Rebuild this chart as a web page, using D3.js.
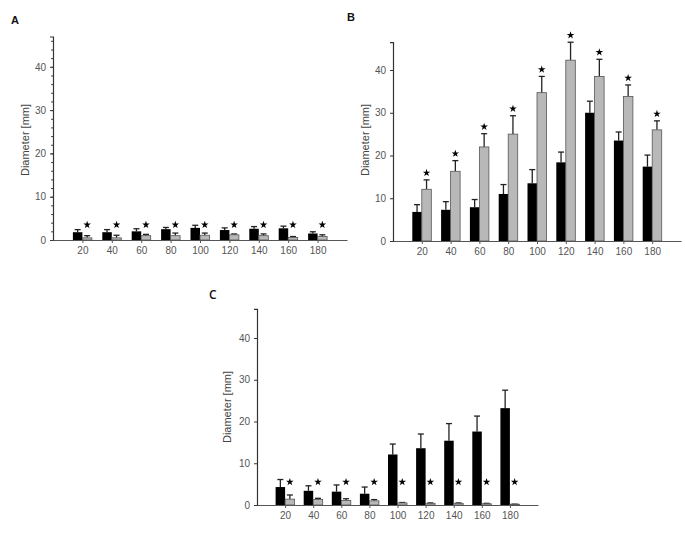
<!DOCTYPE html>
<html>
<head>
<meta charset="utf-8">
<script src="https://cdn.jsdelivr.net/npm/d3@7"></script>
<style>
  body { margin: 0; background: #fff; }
  text { font-family: "Liberation Sans", Arial, sans-serif; }
</style>
</head>
<body>
<div id="chart"></div>
<script>
// 1: DATA
const categories = ["20", "40", "60", "80", "100", "120", "140", "160", "180"];
const yTicks = [0, 10, 20, 30, 40];

// Panel A
const aBlack = [1.8, 1.8, 2.0, 2.5, 2.8, 2.3, 2.6, 2.7, 1.5];
const aBlackSd = [0.6, 0.6, 0.6, 0.4, 0.6, 0.5, 0.5, 0.5, 0.4];
const aGrey = [0.5, 0.5, 1.0, 1.0, 1.1, 1.2, 1.0, 0.6, 0.8];
const aGreySd = [0.5, 0.6, 0.3, 0.6, 0.5, 0.2, 0.4, 0.2, 0.4];

// Panel B
const bBlack = [6.8, 7.3, 7.9, 11.0, 13.5, 18.4, 30.0, 23.5, 17.4];
const bBlackSd = [1.7, 1.9, 1.8, 2.2, 3.2, 2.4, 2.7, 2.0, 2.7];
const bGrey = [12.1, 16.3, 22.0, 25.0, 34.7, 42.3, 38.5, 33.8, 26.0];
const bGreySd = [2.2, 2.5, 3.1, 4.3, 3.8, 4.2, 4.0, 2.7, 2.1];

// Panel C
const cBlack = [4.3, 3.4, 3.2, 2.7, 12.1, 13.6, 15.4, 17.6, 23.2];
const cBlackSd = [1.8, 1.2, 1.6, 1.6, 2.5, 3.4, 4.1, 3.7, 4.3];
const cGrey = [1.4, 1.3, 1.1, 1.0, 0.5, 0.4, 0.4, 0.3, 0.2];
const cGreySd = [1.0, 0.3, 0.4, 0.3, 0.1, 0.1, 0.1, 0.1, 0.0];

// 2: SVG
const svg = d3.select("#chart").append("svg")
    .attr("width", 685)
    .attr("height", 533);

svg.append("rect").attr("width", 685).attr("height", 533).attr("fill", "#fff");

// 3: PANEL DRAWING
function drawPanel(p) {
    const x = d3.scalePoint()
        .domain(categories)
        .range([p.x0, p.x1])
        .padding(1);

    const y = d3.scaleLinear()
        .domain([0, p.yMax])
        .range([p.yBase, p.yBase - p.yMax * p.pxPerUnit]);

    const bw = 9.5;
    const g = svg.append("g");

    const rows = categories.map((c, i) => ({
        cat: c,
        black: p.black[i], blackSd: p.blackSd[i],
        grey: p.grey[i], greySd: p.greySd[i]
    }));

    // error bars (drawn first, bars on top)
    const err = (val, sd, off) => {
        g.selectAll(null)
            .data(rows)
            .enter()
            .append("g")
            .each(function (d) {
                const cx = x(d.cat) + off;
                const top = y(d[val] + d[sd]);
                const sel = d3.select(this);
                sel.append("line")
                    .attr("x1", cx).attr("x2", cx)
                    .attr("y1", y(d[val])).attr("y2", top)
                    .attr("stroke", "#222").attr("stroke-width", 1.3);
                sel.append("line")
                    .attr("x1", cx - 3).attr("x2", cx + 3)
                    .attr("y1", top).attr("y2", top)
                    .attr("stroke", "#222").attr("stroke-width", 1.3);
            });
    };
    err("black", "blackSd", -bw / 2);
    err("grey", "greySd", bw / 2);

    g.selectAll(".black")
        .data(rows)
        .enter()
        .append("rect")
        .attr("x", d => x(d.cat) - bw)
        .attr("y", d => y(d.black))
        .attr("width", bw)
        .attr("height", d => y(0) - y(d.black))
        .attr("fill", "#000");

    g.selectAll(".grey")
        .data(rows)
        .enter()
        .append("rect")
        .attr("x", d => x(d.cat))
        .attr("y", d => y(d.grey))
        .attr("width", bw)
        .attr("height", d => y(0) - y(d.grey))
        .attr("fill", "#b8b8b8")
        .attr("stroke", "#555")
        .attr("stroke-width", 0.8);

    // significance stars
    g.selectAll(".star")
        .data(rows)
        .enter()
        .append("path")
        .attr("d", d3.symbol().type(d3.symbolStar).size(18))
        .attr("transform", d => {
            const v = p.starLevel != null ? p.starLevel : d.grey + d.greySd;
            const py = p.starLevel != null ? y(v) : y(v) - 7;
            return `translate(${x(d.cat) + bw / 2},${py})`;
        })
        .attr("fill", "#000");

    // axes
    const yAxis = g.append("g")
        .attr("transform", `translate(${p.x0},0)`)
        .call(d3.axisLeft(y).tickValues(yTicks).tickSize(3).tickPadding(4));
    yAxis.select(".domain").attr("stroke", "#333").attr("stroke-width", 1.2);
    yAxis.selectAll(".tick line").attr("stroke", "#333");
    yAxis.selectAll("text").attr("fill", "#555").style("font-size", "10px");

    if (p.minor) {
        g.append("g")
            .attr("transform", `translate(${p.x0},0)`)
            .call(d3.axisLeft(y).tickValues(d3.range(0, p.yMax, 2)).tickSize(2).tickFormat(""))
            .call(s => s.select(".domain").remove())
            .selectAll(".tick line").attr("stroke", "#444");
    }

    const xAxis = g.append("g")
        .attr("transform", `translate(0,${p.yBase})`)
        .call(d3.axisBottom(x).tickSize(3).tickPadding(4).tickSizeOuter(0));
    xAxis.select(".domain").attr("stroke", "#555").attr("stroke-width", 1.2);
    xAxis.selectAll(".tick line").attr("stroke", "#555");
    xAxis.selectAll("text").attr("fill", "#555").style("font-size", "10px");

    // y title
    g.append("text")
        .attr("transform", `translate(${p.titleX},${p.titleY}) rotate(-90)`)
        .attr("text-anchor", "middle")
        .attr("fill", "#444")
        .style("font-size", "11px")
        .text("Diameter [mm]");

    // panel letter
    g.append("text")
        .attr("x", p.labelX)
        .attr("y", p.labelY)
        .attr("fill", "#111")
        .style("font-family", p.labelFont)
        .style("font-weight", p.labelWeight)
        .style("font-size", p.labelSize)
        .text(p.label);
}

drawPanel({
    label: "A", labelX: 11, labelY: 24, labelFont: "Liberation Sans", labelWeight: "bold", labelSize: "11px",
    black: aBlack, blackSd: aBlackSd, grey: aGrey, greySd: aGreySd,
    x0: 53, x1: 347, yBase: 240, pxPerUnit: 4.33, yMax: 47,
    starLevel: 3.5, minor: true, titleX: 29, titleY: 140
});

drawPanel({
    label: "B", labelX: 347, labelY: 21, labelFont: "Liberation Sans", labelWeight: "bold", labelSize: "11px",
    black: bBlack, blackSd: bBlackSd, grey: bGrey, greySd: bGreySd,
    x0: 393, x1: 681, yBase: 241, pxPerUnit: 4.275, yMax: 46.5,
    starLevel: null, minor: false, titleX: 369, titleY: 140
});

drawPanel({
    label: "C", labelX: 209, labelY: 299, labelFont: "Open Sans", labelWeight: "600", labelSize: "12px",
    black: cBlack, blackSd: cBlackSd, grey: cGrey, greySd: cGreySd,
    x0: 257, x1: 538, yBase: 505, pxPerUnit: 4.175, yMax: 47,
    starLevel: 5.5, minor: false, titleX: 231, titleY: 407
});
</script>
</body>
</html>
